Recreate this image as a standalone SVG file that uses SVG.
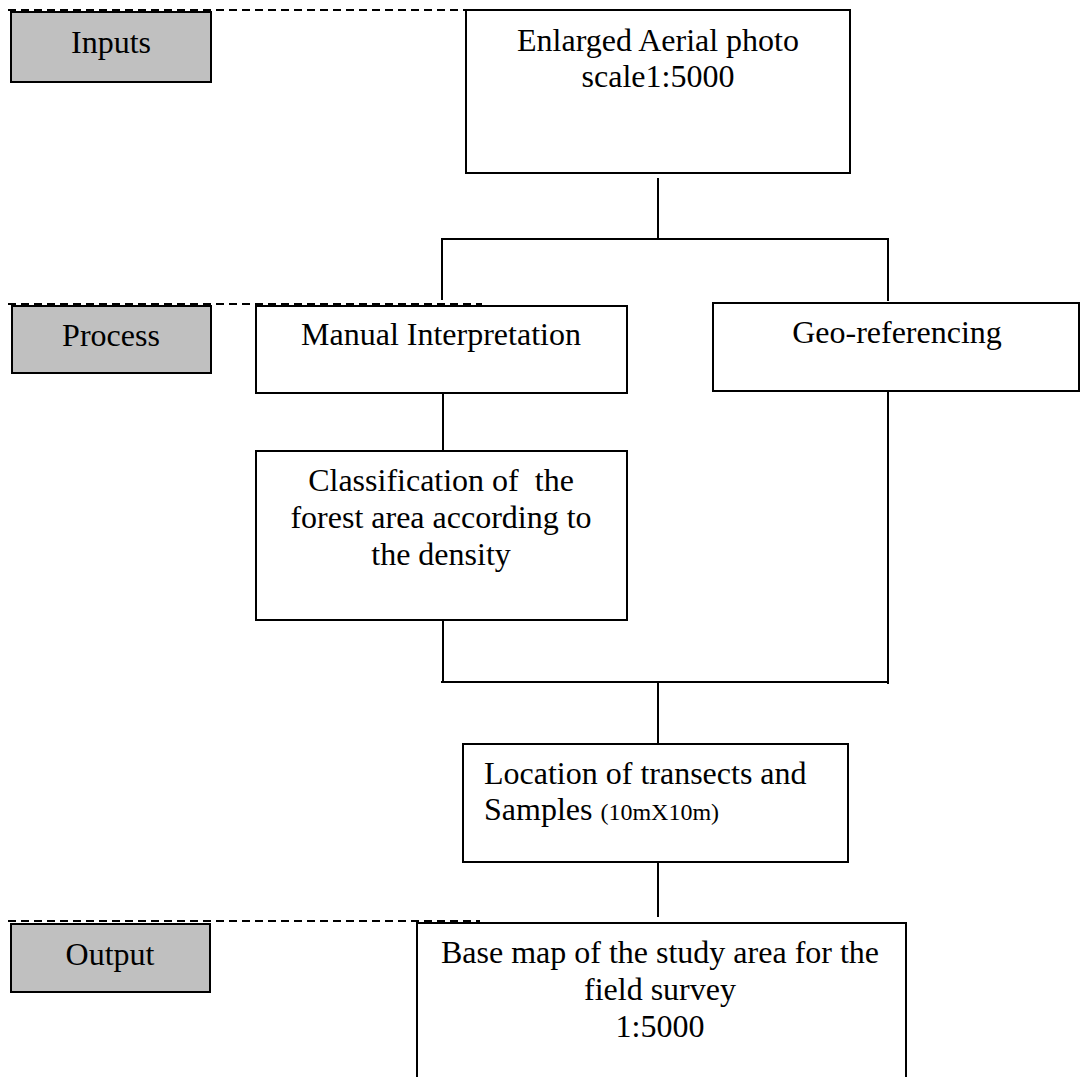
<svg xmlns="http://www.w3.org/2000/svg" width="1082" height="1077" viewBox="0 0 1082 1077">
<style>
.bg{fill:#ffffff}
.box{fill:#ffffff;stroke:#000;stroke-width:2}
.lab{fill:#c0c0c0;stroke:#000;stroke-width:2}
.dash{fill:none;stroke:#000;stroke-width:2;stroke-dasharray:8 5}
.con{fill:none;stroke:#000;stroke-width:2}
text{font-family:"Liberation Serif","Times New Roman",serif;font-size:32px;fill:#000}
.c{text-anchor:middle}
.s{font-size:24px}
</style>
<rect class="bg" x="0" y="0" width="1082" height="1077"/>
<g id="stage-lines">
<line class="dash" x1="8" y1="10" x2="477" y2="10"/>
<line class="dash" x1="8" y1="304" x2="482" y2="304"/>
<line class="dash" x1="8" y1="921" x2="480" y2="921"/>
</g>
<g id="label-inputs">
<rect class="lab" x="11" y="12" width="200" height="70"/>
<text class="c" x="111" y="53">Inputs</text>
</g>
<g id="label-process">
<rect class="lab" x="12" y="306" width="199" height="67"/>
<text class="c" x="111" y="346">Process</text>
</g>
<g id="label-output">
<rect class="lab" x="11" y="924" width="199" height="68"/>
<text class="c" x="110" y="965">Output</text>
</g>
<g id="connectors">
<line class="con" x1="658" y1="178" x2="658" y2="239"/>
<line class="con" x1="441" y1="239" x2="889" y2="239"/>
<line class="con" x1="442" y1="239" x2="442" y2="300"/>
<line class="con" x1="888" y1="239" x2="888" y2="301"/>
<line class="con" x1="443" y1="392" x2="443" y2="450"/>
<line class="con" x1="443" y1="620" x2="443" y2="682"/>
<line class="con" x1="441" y1="682" x2="889" y2="682"/>
<line class="con" x1="888" y1="391" x2="888" y2="684"/>
<line class="con" x1="658" y1="682" x2="658" y2="743"/>
<line class="con" x1="658" y1="862" x2="658" y2="917"/>
</g>
<g id="node-aerial">
<rect class="box" x="466" y="10" width="384" height="163"/>
<text class="c" x="658" y="51">Enlarged Aerial photo</text>
<text class="c" x="658" y="87">scale1:5000</text>
</g>
<g id="node-manual">
<rect class="box" x="256" y="306" width="371" height="87"/>
<text class="c" x="441" y="345">Manual Interpretation</text>
</g>
<g id="node-geo">
<rect class="box" x="713" y="303" width="366" height="88"/>
<text class="c" x="897" y="343">Geo-referencing</text>
</g>
<g id="node-classification">
<rect class="box" x="256" y="451" width="371" height="169"/>
<text class="c" x="441" y="491" xml:space="preserve">Classification of  the</text>
<text class="c" x="441" y="528">forest area according to</text>
<text class="c" x="441" y="565">the density</text>
</g>
<g id="node-location">
<rect class="box" x="463" y="744" width="385" height="118"/>
<text x="484" y="784">Location of transects and</text>
<text x="484" y="820">Samples <tspan class="s">(10mX10m)</tspan></text>
</g>
<g id="node-basemap">
<path class="box" d="M417,1080 V923 H906 V1080"/>
<text class="c" x="660" y="963">Base map of the study area for the</text>
<text class="c" x="660" y="1000">field survey</text>
<text class="c" x="660" y="1037">1:5000</text>
</g>
</svg>
